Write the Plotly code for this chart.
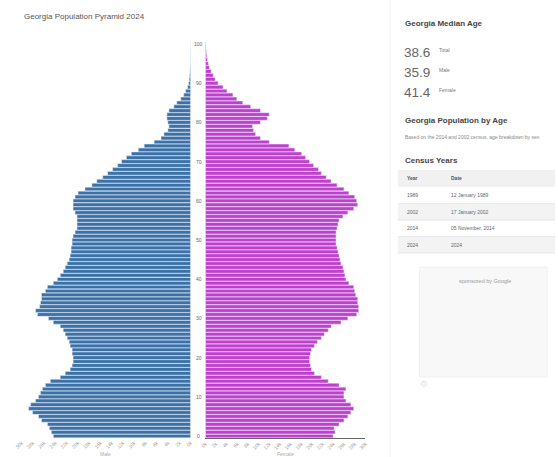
import plotly.graph_objects as go

# Georgia 2024 population by single year of age (persons)
ages = list(range(0, 101))
male = [24390, 24740, 25090, 25440, 26490, 27020, 28070, 28770, 28420, 27540,
        27020, 26670, 26320, 25790, 24910, 23160, 22280, 21400, 21050, 20880,
        20880, 21050, 21050, 21400, 21580, 21930, 22280, 22630, 23160, 24390,
        25260, 27190, 27540, 26840, 26670, 26490, 26490, 25790, 25440, 24390,
        23680, 23160, 22630, 22280, 21930, 21580, 21400, 21230, 21230, 21050,
        21050, 20880, 20530, 20180, 20180, 20180, 20180, 20530, 20880, 20880,
        20880, 20530, 20000, 18770, 17540, 16670, 15610, 14740, 13860, 12980,
        12280, 11400, 10530, 9300, 8250, 6490, 5260, 4740, 4040, 3860,
        4040, 4210, 4210, 3860, 2980, 2460, 1750, 1230, 880, 530,
        350, 260, 180, 120, 90, 50, 35, 18, 18, 9, 9]
female = [23940, 24310, 24130, 25050, 25970, 26700, 27260, 27810, 27260, 26340,
          25970, 25970, 26340, 25050, 23020, 21730, 20440, 19890, 19710, 19520,
          19520, 19710, 19890, 20440, 20990, 21730, 22280, 23020, 23570, 25410,
          26700, 28360, 28730, 28730, 28550, 28550, 28180, 27990, 27810, 26890,
          26340, 26150, 25970, 25780, 25410, 25230, 25050, 24860, 24680, 24490,
          24490, 24490, 24490, 24680, 24860, 25050, 25780, 26700, 27810, 28550,
          28360, 27990, 26890, 25970, 24680, 23570, 22650, 21730, 21180, 20260,
          19520, 18780, 18050, 16760, 15650, 11970, 10310, 9390, 9020, 8840,
          10310, 11600, 11970, 10310, 8470, 7000, 5890, 5160, 4050, 3310,
          2390, 1840, 1470, 1100, 740, 550, 370, 260, 180, 110, 70]

x_ticks = list(range(0, 30001, 2000))
x_tick_text = [f"{v // 1000}k" for v in x_ticks]
age_labels = list(range(0, 101, 10))

median_values = ["38.6", "35.9", "41.4"]
median_groups = ["Total", "Male", "Female"]
census_years = ["1989", "2002", "2014", "2024"]
census_dates = ["12 January 1989", "17 January 2002", "05 November, 2014", "2024"]

MALE_C = "#3b71a6"
FEMALE_C = "#c13fcf"
W, H = 558, 457


def px(x):
    return x / W


def py(y):
    return 1 - y / H


fig = go.Figure()
fig.add_trace(go.Bar(x=male, y=ages, orientation="h", marker_color=MALE_C,
                     xaxis="x", yaxis="y", name="Male", hoverinfo="x+y"))
fig.add_trace(go.Bar(x=female, y=ages, orientation="h", marker_color=FEMALE_C,
                     xaxis="x2", yaxis="y2", name="Female", hoverinfo="x+y"))

tick_font = dict(size=5, color="#9a9a9a", family="Arial")
y_dom = [py(438), py(42)]

fig.update_layout(
    width=W, height=H, margin=dict(l=0, r=0, t=0, b=0),
    paper_bgcolor="white", plot_bgcolor="white",
    showlegend=False, bargap=0.07,
    xaxis=dict(domain=[px(15), px(187)], range=[30000, 0], tickvals=x_ticks,
               ticktext=x_tick_text, tickangle=-45, tickfont=tick_font,
               showgrid=False, zeroline=False, ticks="", fixedrange=True),
    yaxis=dict(domain=y_dom, range=[-0.5, 100.5], showticklabels=False,
               showgrid=False, zeroline=False, anchor="x"),
    xaxis2=dict(domain=[px(202), px(365)], range=[0, 30000], tickvals=x_ticks,
                ticktext=x_tick_text, tickangle=-45, tickfont=tick_font,
                showgrid=False, zeroline=False, ticks="", anchor="y2",
                showline=True, linecolor="#666", linewidth=1),
    yaxis2=dict(domain=y_dom, range=[-0.5, 100.5], showticklabels=False,
                showgrid=False, zeroline=False, anchor="x2", matches="y"),
)

ann = []
# age labels in the centre column
for a in age_labels:
    ann.append(dict(x=px(195), y=a, xref="paper", yref="y", text=str(a),
                    showarrow=False, font=dict(size=5, color="#666", family="Arial"),
                    xanchor="center", yanchor="middle"))

ann.append(dict(x=px(15), y=py(16), xref="paper", yref="paper",
                text="Georgia Population Pyramid 2024", showarrow=False,
                font=dict(size=8, color="#555", family="Arial"),
                xanchor="left", yanchor="middle"))
ann.append(dict(x=px(100), y=py(454), xref="paper", yref="paper", text="Male",
                showarrow=False, font=dict(size=5, color="#aaa", family="Arial"),
                xanchor="center", yanchor="middle"))
ann.append(dict(x=px(284), y=py(454), xref="paper", yref="paper", text="Female",
                showarrow=False, font=dict(size=5, color="#aaa", family="Arial"),
                xanchor="center", yanchor="middle"))

# sidebar
ann.append(dict(x=px(403), y=py(24), xref="paper", yref="paper",
                text="<b>Georgia Median Age</b>", showarrow=False,
                font=dict(size=8, color="#444", family="Arial"),
                xanchor="left", yanchor="middle"))
for i, (v, g) in enumerate(zip(median_values, median_groups)):
    yy = 52 + 20 * i
    ann.append(dict(x=px(402), y=py(yy), xref="paper", yref="paper", text=v,
                    showarrow=False, font=dict(size=13.5, color="#666", family="Arial"),
                    xanchor="left", yanchor="middle"))
    ann.append(dict(x=px(438), y=py(yy - 2), xref="paper", yref="paper", text=g,
                    showarrow=False, font=dict(size=5, color="#777", family="Arial"),
                    xanchor="left", yanchor="middle"))

ann.append(dict(x=px(403), y=py(120), xref="paper", yref="paper",
                text="<b>Georgia Population by Age</b>", showarrow=False,
                font=dict(size=8, color="#444", family="Arial"),
                xanchor="left", yanchor="middle"))
ann.append(dict(x=px(403), y=py(137), xref="paper", yref="paper",
                text="Based on the 2014 and 2002 census, age breakdown by sex",
                showarrow=False, font=dict(size=5, color="#888", family="Arial"),
                xanchor="left", yanchor="middle"))
ann.append(dict(x=px(403), y=py(160), xref="paper", yref="paper",
                text="<b>Census Years</b>", showarrow=False,
                font=dict(size=8, color="#444", family="Arial"),
                xanchor="left", yanchor="middle"))

shapes = []
shapes.append(dict(type="line", xref="paper", yref="paper", x0=px(390), x1=px(390),
                   y0=0, y1=1, line=dict(color="#eeeeee", width=1)))
# table header
shapes.append(dict(type="rect", xref="paper", yref="paper", x0=px(398), x1=1,
                   y0=py(187), y1=py(170), fillcolor="#f1f1f1", line=dict(width=0)))
ann.append(dict(x=px(405), y=py(178), xref="paper", yref="paper", text="<b>Year</b>",
                showarrow=False, font=dict(size=5, color="#555", family="Arial"),
                xanchor="left", yanchor="middle"))
ann.append(dict(x=px(450), y=py(178), xref="paper", yref="paper", text="<b>Date</b>",
                showarrow=False, font=dict(size=5, color="#555", family="Arial"),
                xanchor="left", yanchor="middle"))
for i, (yr, dt) in enumerate(zip(census_years, census_dates)):
    top = 187 + 16.5 * i
    if i % 2 == 1:
        shapes.append(dict(type="rect", xref="paper", yref="paper", x0=px(398), x1=1,
                           y0=py(top + 16.5), y1=py(top), fillcolor="#f3f3f3",
                           line=dict(width=0)))
    shapes.append(dict(type="line", xref="paper", yref="paper", x0=px(398), x1=1,
                       y0=py(top + 16.5), y1=py(top + 16.5),
                       line=dict(color="#e6e6e6", width=1)))
    ann.append(dict(x=px(405), y=py(top + 8), xref="paper", yref="paper", text=yr,
                    showarrow=False, font=dict(size=5, color="#666", family="Arial"),
                    xanchor="left", yanchor="middle"))
    ann.append(dict(x=px(450), y=py(top + 8), xref="paper", yref="paper", text=dt,
                    showarrow=False, font=dict(size=5, color="#666", family="Arial"),
                    xanchor="left", yanchor="middle"))

# embedded panel
shapes.append(dict(type="rect", xref="paper", yref="paper", x0=px(420), x1=px(550),
                   y0=py(377), y1=py(267), fillcolor="#f8f8f8",
                   line=dict(color="#f0f0f0", width=1)))
ann.append(dict(x=px(487), y=py(281), xref="paper", yref="paper",
                text="sponsored by Google", showarrow=False,
                font=dict(size=5.5, color="#999", family="Arial"),
                xanchor="center", yanchor="middle"))
ann.append(dict(x=px(425), y=py(383), xref="paper", yref="paper", text="ⓘ",
                showarrow=False, font=dict(size=6, color="#aaa", family="DejaVu Sans"),
                xanchor="center", yanchor="middle"))

fig.update_layout(annotations=ann, shapes=shapes)
fig.write_html("out.html")
